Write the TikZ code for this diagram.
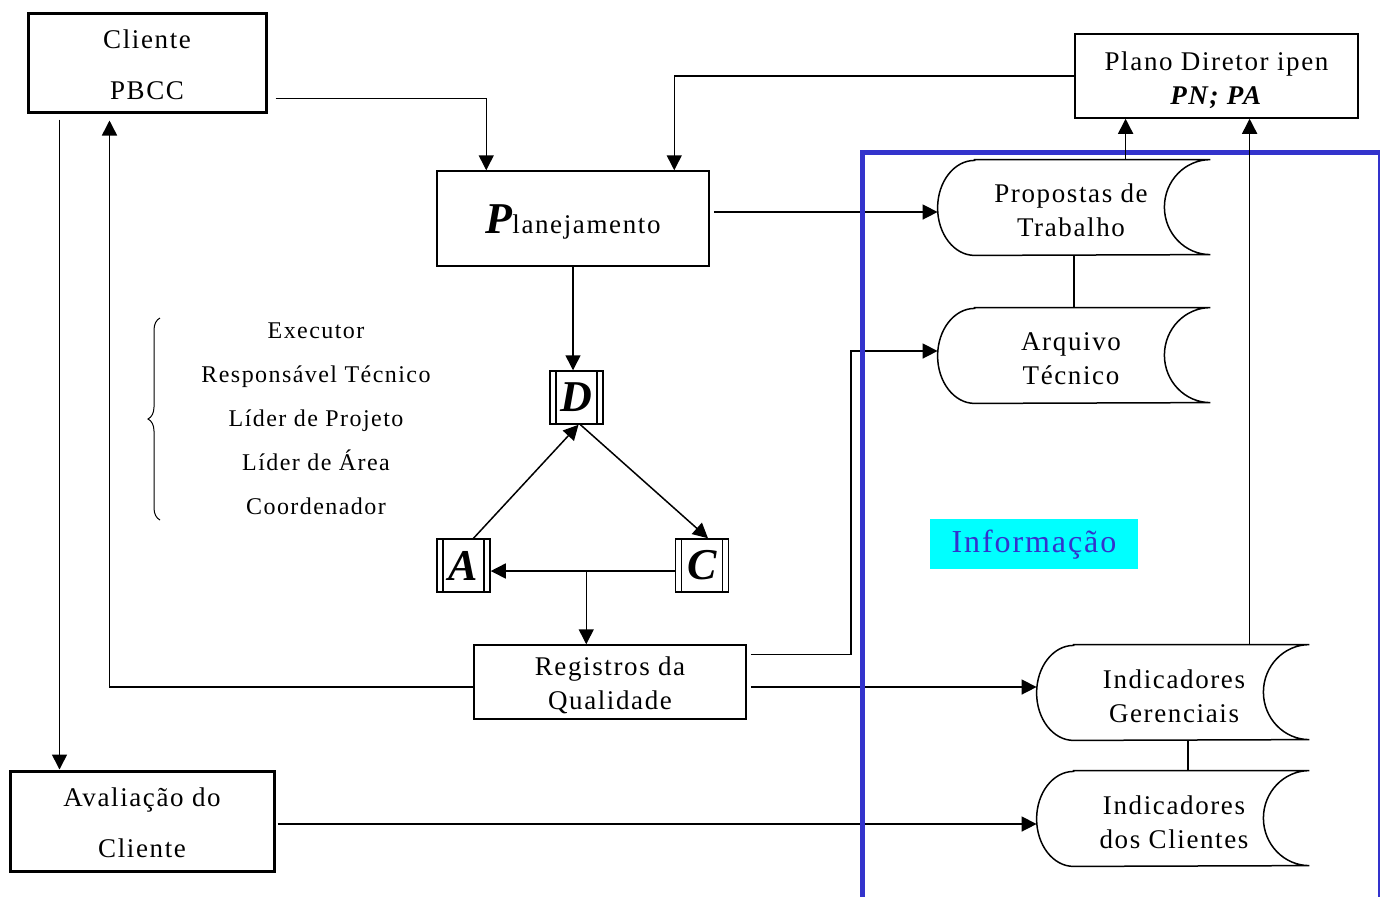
\documentclass[tikz,border=0pt]{standalone}
\usepackage{fontspec}
\setmainfont{Liberation Serif}[LetterSpace=6]
\usetikzlibrary{arrows.meta,calc,decorations.pathreplacing}
\definecolor{frameblue}{RGB}{51,51,204}
\definecolor{infocyan}{RGB}{0,255,255}
\newcommand\drawstored[1]{%
  \draw[line, fill=white] ($(#1.north west)+(37,0)$) -- (#1.north east)
    arc[start angle=90, end angle=270, x radius=23pt, y radius=23.75pt]
    -- ($(#1.south west)+(37,0)$)
    arc[start angle=270, end angle=90, x radius=18.5pt, y radius=23.75pt] -- cycle;}
\newcommand\lift[1]{\rule{0pt}{#1}}
\begin{document}
\begin{tikzpicture}[x=0.5pt,y=-0.5pt,
  every node/.style={font=\fontsize{13.5}{17}\selectfont, align=center, inner sep=0pt},
  line/.style={line width=0.75pt},
  arr/.style={line, -{Triangle[length=7.5pt,width=7.5pt]}},
  box/.style={draw, line width=0.75pt, fill=white},
  thickbox/.style={draw, line width=1.5pt, fill=white, font=\fontsize{13.5}{25.5}\selectfont},
  stored/.style={minimum width=136pt, minimum height=47.5pt},
  letterbox/.style={draw, line width=0.75pt, minimum width=26.5pt, minimum height=26.5pt,
    font=\fontsize{22}{22}\selectfont\bfseries\itshape,
    path picture={
      \draw[line width=0.75pt] ([xshift=3pt]path picture bounding box.north west) -- ([xshift=3pt]path picture bounding box.south west);
      \draw[line width=0.75pt] ([xshift=-3pt]path picture bounding box.north east) -- ([xshift=-3pt]path picture bounding box.south east);
    }},
]
\useasboundingbox (0,0) rectangle (1380,896);

% main boxes
\node[thickbox, minimum width=119pt, minimum height=49.5pt] (cli) at (147,62.5) {\lift{11.5pt}Cliente\\PBCC};
\node[thickbox, minimum width=132pt, minimum height=50pt] (av) at (142,821) {\lift{11.5pt}Avaliação do\\Cliente};
\node[box, minimum width=136pt, minimum height=47.5pt] (plan) at (573,218.5)
  {\lift{17.5pt}{\fontsize{22}{22}\selectfont\bfseries\itshape P}lanejamento};
\node[box, minimum width=141.5pt, minimum height=42pt] (pd) at (1216.5,76)
  {\lift{13.2pt}Plano Diretor ipen\\\textbf{\textit{PN; PA}}};
\node[box, minimum width=136pt, minimum height=37pt] (reg) at (610,682) {\lift{12.2pt}Registros da\\Qualidade};

% PDCA letters
\node[letterbox] (d) at (576.5,397.5) {D};
\node[letterbox] (a) at (463.5,565.5) {A};
\node[letterbox] (c) at (702,565.5) {C};

% roles
\draw[line width=0.5pt, decorate, decoration={brace, amplitude=6pt}] (160,520) -- (160,318);
\node[font=\fontsize{12}{22}\selectfont] (roles) at (316,419)
  {Executor\\Responsável Técnico\\Líder de Projeto\\Líder de Área\\Coordenador};

% stored data shapes
\node[stored] (prop) at (1074,207.5) {};
\node[stored] (arq) at (1074,355.5) {};
\node[stored] (ig) at (1173,692.5) {};
\node[stored] (ic) at (1173,818.5) {};
\drawstored{prop}
\drawstored{arq}
\drawstored{ig}
\drawstored{ic}
\node (propt) at (1071,210) {Propostas de\\Trabalho};
\node (arqt) at (1071,359) {Arquivo\\Técnico};
\node (igt) at (1174,696) {Indicadores\\Gerenciais};
\node (ict) at (1174,822) {Indicadores\\dos Clientes};

% horizontal connectors crossing the frame
\draw[arr] ($(plan.east)+(4,-6.5)$) -- ($(prop.west)+(0,4.5)$);
\coordinate (r1) at ($(reg.north east)+(4,10)$);
\draw[arr] (r1) -- ++(100,0) |- ($(arq.west)+(0,-4.5)$);
\coordinate (r2) at ($(reg.east)+(4,5)$);
\draw[arr] (r2) -- (r2 -| ig.west);
\coordinate (a2) at ($(av.east)+(2,3)$);
\draw[arr] (a2) -- (a2 -| ic.west);

% blue frame
\draw[frameblue, line width=2.5pt] (862.5,152.5) rectangle (1380.5,905);
\node[fill=infocyan, minimum width=104pt, minimum height=25pt, text=frameblue,
  font=\fontsize{16}{16}\selectfont] (info) at (1034,544) {\lift{12pt}Informação};

% other connectors
\draw[arr] ($(cli.south east)+(8,-15)$) -| ($(plan.north west)+(50,0)$);
\draw[arr] (pd.west) -| ($(plan.north west)+(238,0)$);
\coordinate (p1) at ($(prop.north west)+(188,0)$);
\draw[arr] (p1) -- (p1 |- pd.south);
\coordinate (g1) at ($(ig.north west)+(213,0)$);
\draw[arr] (g1) -- (g1 |- pd.south);
\draw[line] (prop.south) -- (arq.north);
\draw[line] ($(ig.south)+(15,0)$) -- ($(ic.north)+(15,0)$);
\draw[arr] (plan.south) -- (plan.south |- d.north);
\draw[arr] ($(a.north)+(10,0)$) -- ($(d.south)+(2,0)$);
\draw[arr] ($(d.south)+(4,0)$) -- ($(c.north)+(6,0)$);
\draw[arr] ($(c.west)+(0,5.5)$) -- ($(a.east)+(0,5.5)$);
\coordinate (j) at ($(reg.north west)+(113,0)$);
\draw[arr] (j |- c.west) ++(0,5.5) -- (j);
\draw[arr] ($(reg.west)+(0,5)$) -| ($(cli.south west)+(83,7)$);
\coordinate (c2) at ($(cli.south west)+(33,6)$);
\draw[arr] (c2) -- (c2 |- av.north);
\end{tikzpicture}
\end{document}
